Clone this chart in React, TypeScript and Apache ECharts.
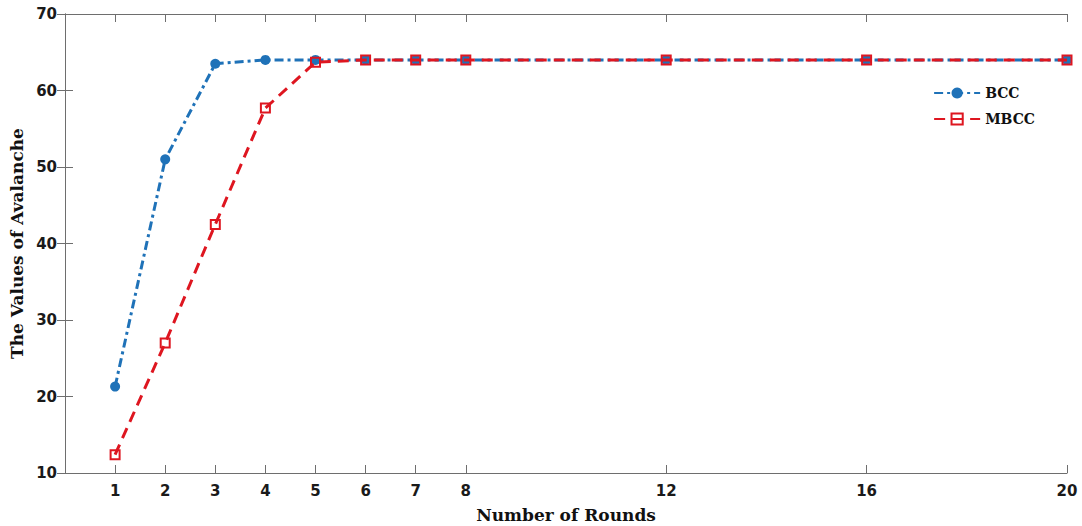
import React, { useEffect, useRef } from "react";
import * as echarts from "echarts";

const rounds = [1, 2, 3, 4, 5, 6, 7, 8, 12, 16, 20];
const bccValues = [21.3, 51, 63.5, 64, 64, 64, 64, 64, 64, 64, 64];
const mbccValues = [12.4, 27, 42.5, 57.7, 63.7, 64, 64, 64, 64, 64, 64];
const yTicks = [10, 20, 30, 40, 50, 60, 70];

export default function App() {
  const ref = useRef<HTMLDivElement>(null);
  useEffect(() => {
    document.body.style.margin = "0";
    if (!ref.current) return;
    const chart = echarts.init(ref.current, undefined, { renderer: "svg" });
    const axisColor = "#6e6e6e";
    const labelFont = {
      fontFamily: "DejaVu Sans",
      fontWeight: "bold" as const,
      fontSize: 15,
      color: "#1a1a1a",
    };
    const titleFont = {
      fontFamily: "DejaVu Serif",
      fontWeight: "bold" as const,
      fontSize: 17,
      color: "#111",
    };
    chart.setOption({
      animation: false,
      backgroundColor: "#ffffff",
      grid: {
        left: 65,
        right: 15,
        top: 14,
        bottom: 53,
        containLabel: false,
        outerBoundsMode: "none",
      },
      legend: {
        right: 42,
        top: 81,
        orient: "vertical",
        itemWidth: 46,
        itemHeight: 14,
        itemGap: 12,
        textStyle: {
          fontFamily: "DejaVu Serif",
          fontWeight: "bold",
          fontSize: 14,
          color: "#111",
        },
        data: ["BCC", "MBCC"],
      },
      xAxis: [
        {
          type: "value",
          min: 0,
          max: 20,
          name: "Number of Rounds",
          nameLocation: "middle",
          nameGap: 33,
          nameTextStyle: titleFont,
          axisLine: { show: true, lineStyle: { color: axisColor, width: 1 } },
          axisTick: {
            show: true,
            inside: true,
            length: 8,
            customValues: rounds,
            lineStyle: { color: axisColor },
          },
          axisLabel: { ...labelFont, margin: 10, customValues: rounds },
          splitLine: { show: false },
        },
        {
          type: "value",
          position: "top",
          min: 0,
          max: 20,
          axisLine: { show: true, lineStyle: { color: axisColor, width: 1 } },
          axisTick: {
            show: true,
            inside: true,
            length: 8,
            customValues: rounds,
            lineStyle: { color: axisColor },
          },
          axisLabel: { show: false },
          splitLine: { show: false },
        },
      ],
      yAxis: [
        {
          type: "value",
          min: 10,
          max: 70,
          interval: 10,
          name: "The Values of Avalanche",
          nameLocation: "middle",
          nameGap: 40,
          nameTextStyle: titleFont,
          axisLine: { show: true, lineStyle: { color: axisColor, width: 1 } },
          axisTick: {
            show: true,
            inside: true,
            length: 8,
            lineStyle: { color: axisColor },
          },
          axisLabel: { ...labelFont, margin: 8, customValues: yTicks },
          splitLine: { show: false },
        },
        {
          type: "value",
          position: "right",
          min: 10,
          max: 70,
          interval: 10,
          axisLine: { show: true, lineStyle: { color: axisColor, width: 1 } },
          axisTick: {
            show: true,
            inside: true,
            length: 8,
            lineStyle: { color: axisColor },
          },
          axisLabel: { show: false },
          splitLine: { show: false },
        },
      ],
      series: [
        {
          name: "BCC",
          type: "line",
          data: rounds.map((r, i) => [r, bccValues[i]]),
          symbol: "circle",
          symbolSize: 10,
          itemStyle: { color: "#1f72b8" },
          lineStyle: { color: "#1f72b8", width: 3, type: [9, 4, 3, 4] },
          z: 2,
        },
        {
          name: "MBCC",
          type: "line",
          data: rounds.map((r, i) => [r, mbccValues[i]]),
          symbol: "rect",
          symbolSize: 9,
          itemStyle: {
            color: "rgba(255,255,255,0)",
            borderColor: "#de1620",
            borderWidth: 2,
          },
          lineStyle: { color: "#de1620", width: 3, type: [11, 7] },
          z: 3,
        },
      ],
    });
    return () => chart.dispose();
  }, []);
  return <div ref={ref} style={{ width: 1082, height: 526 }} />;
}
